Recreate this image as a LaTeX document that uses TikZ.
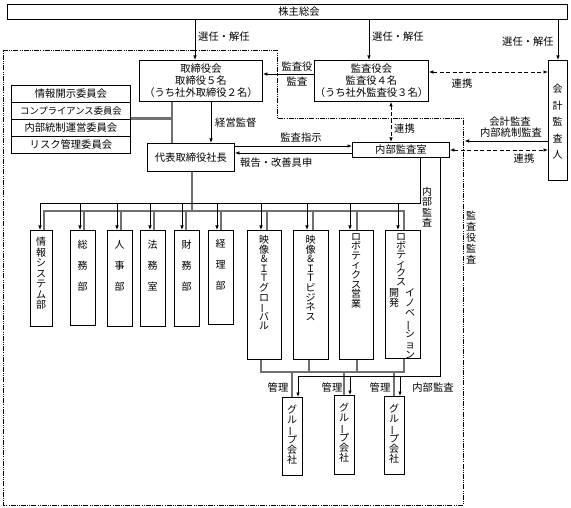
\documentclass[tikz,border=0pt]{standalone}
\usepackage{fontspec}
\setmainfont{Noto Sans CJK JP}
\usepackage{graphicx}
\usetikzlibrary{arrows.meta}
\definecolor{lgray}{RGB}{112,112,112}
\newcommand{\tbar}{\rotatebox[origin=c]{90}{ー}}
\newcommand{\tatefont}[1]{\fontsize{10}{#1}\selectfont\lineskiplimit=-20pt\relax}
\begin{document}
\begin{tikzpicture}[x=1pt,y=-1pt,
  font=\fontsize{10.3}{12}\selectfont,
  box/.style={draw, line width=0.9pt, inner sep=0pt, anchor=north west, align=center},
  arr/.style={line width=0.8pt, -{Latex[length=4.5pt,width=3.6pt]}},
  dl/.style={line width=0.8pt, dash pattern=on 4pt off 2.5pt, {Latex[length=4.5pt,width=3.6pt]}-{Latex[length=4.5pt,width=3.6pt]}},
  gl/.style={line width=2.8pt, draw=lgray},
  frame/.style={line width=0.8pt, dash pattern=on 5pt off 1.2pt on 0.9pt off 1.2pt on 0.9pt off 1.2pt},
  lbl/.style={inner sep=0pt},
  vt/.style={align=center, inner sep=0pt, anchor=north, font=\tatefont{#1}},
  vt/.default=9.6
]
\useasboundingbox (0,0) rectangle (571,508);

% frame
\draw[frame] (3,50) -- (277,50) -- (277,118) -- (463,118) -- (463,505) -- (3,505) -- cycle;

% main boxes
\node[box, minimum width=560pt, minimum height=15pt] (kabu) at (7,4) {};
\node[lbl] (kabut) at (299,11.5) {株主総会};
\node[box, minimum width=123pt, minimum height=41pt] (tori) at (139,60) {取締役会\\取締役５名\\（うち社外取締役２名）};
\node[box, minimum width=114pt, minimum height=41pt] (kansa) at (314,60) {監査役会\\監査役４名\\（うち社外監査役３名）};
\node[box, minimum width=19pt, minimum height=120pt] (kaikei) at (548,60) {};
\node[vt=16.5] (kaikeit) at (557.5,84) {会\\計\\監\\査\\人};

\node[box, minimum width=119pt, minimum height=17pt] (c1) at (11,85) {情報開示委員会};
\node[box, minimum width=119pt, minimum height=17pt] (c2) at (11,102) {\fontsize{9.3}{11}\selectfont コンプライアンス委員会};
\node[box, minimum width=119pt, minimum height=17pt] (c3) at (11,119) {内部統制運営委員会};
\node[box, minimum width=119pt, minimum height=17pt] (c4) at (11,136) {リスク管理委員会};

\node[box, minimum width=87pt, minimum height=28pt] (daihyo) at (147,143) {代表取締役社長};
\node[box, minimum width=97pt, minimum height=15pt] (naibu) at (352,142) {内部監査室};

% departments
\foreach \n/\xa/\w/\h in {d1/30/22/96, d2/70/25/95, d3/107/25/96, d4/140/25/96, d5/174/25/96, d6/208/25/94, d7/247/34/129, d8/293/35/129, d9/339/34/129, d10/385/35/128}
  \node[box, minimum width=\w pt, minimum height=\h pt] (\n) at (\xa,230) {};

\node[vt=10.5] (t1) at (41,237) {情\\報\\シ\\ス\\テ\\ム\\部};
\node[vt=21] (t2) at (82.5,240) {総\\務\\部};
\node[vt=21] (t3) at (119.5,240) {人\\事\\部};
\node[vt=21] (t4) at (152.5,240) {法\\務\\室};
\node[vt=21] (t5) at (186.5,240) {財\\務\\部};
\node[vt=21] (t6) at (220.5,239) {経\\理\\部};
\node[vt] (t7) at (264,235) {映\\像\\＆\\Ｉ\\Ｔ\\グ\\ロ\\\tbar\\バ\\ル};
\node[vt] (t8) at (310.5,235) {映\\像\\＆\\Ｉ\\Ｔ\\ビ\\ジ\\ネ\\ス};
\node[vt] (t9) at (356,233) {ロ\\ボ\\テ\\ィ\\ク\\ス\\営\\業};
\node[vt=9] (t10a) at (401,233) {ロ\\ボ\\テ\\ィ\\ク\\ス};
\node[vt=10.4] (t10b) at (410,288) {イ\\ノ\\ベ\\\tbar\\シ\\ョ\\ン};
\node[vt=10] (t10c) at (394,288) {開\\発};

% group companies
\node[box, minimum width=20pt, minimum height=78pt] (g1) at (282,397) {};
\node[box, minimum width=20pt, minimum height=79pt] (g2) at (334,395) {};
\node[box, minimum width=20pt, minimum height=78pt] (g3) at (384,396) {};
\node[vt=10] (g1t) at (292,405) {グ\\ル\\\tbar\\プ\\会\\社};
\node[vt=10] (g2t) at (344,403) {グ\\ル\\\tbar\\プ\\会\\社};
\node[vt=10] (g3t) at (394,404) {グ\\ル\\\tbar\\プ\\会\\社};

% gray management lines
\draw[gl] (c2.east |- 0,118.5) -- (172,118.5);
\draw[gl] (172,0 |- tori.south) -- (172,0 |- daihyo.north);
\draw[gl] (192,0 |- daihyo.south) -- (192,211);
\draw[gl] (44,0 |- d1.north) -- (44,211) -- (404,211) -- (404,0 |- d10.north);
\foreach \x/\n in {84/d2,121/d3,154/d4,186/d5,221/d6,267/d7,313/d8,357/d9}
  \draw[gl] (\x,211) -- (\x,0 |- \n.north);
\draw[gl] (261,0 |- d7.south) -- (261,372) -- (404,372) -- (404,0 |- d10.south);
\draw[gl] (309,0 |- d8.south) -- (309,372);
\draw[gl] (357,0 |- d9.south) -- (357,372);
\foreach \x/\n in {292/g1,344/g2,394/g3}
  \draw[gl] (\x,372) -- (\x,0 |- \n.north);

% black connectors
\draw[arr] (195,0 |- kabu.south) -- (195,0 |- tori.north);
\draw[arr] (369,0 |- kabu.south) -- (369,0 |- kansa.north);
\draw[arr] (558,0 |- kabu.south) -- (558,0 |- kaikei.north);
\draw[arr] (kansa.west |- 0,74) -- (tori.east |- 0,74);
\draw[dl] (kansa.east |- 0,72) -- (kaikei.west |- 0,72);
\draw[dl] (391,0 |- kansa.south) -- (391,0 |- naibu.north);
\draw[arr] (211,0 |- tori.south) -- (211,0 |- daihyo.north);
\draw[arr] (daihyo.east |- 0,146) -- (naibu.west |- 0,146);
\draw[arr] (naibu.west |- 0,153) -- (daihyo.east |- 0,153);
\coordinate (fr) at (464.5,141);
\draw[arr] (kaikei.west |- fr) -- (fr);
\draw[dl] (naibu.east |- 0,150) -- (kaikei.west |- 0,150);

\draw[arr] (420,0 |- naibu.south) -- (420,203) -- (40,203) -- (40,0 |- d1.north);
\foreach \x/\n in {80/d2,117/d3,150/d4,182/d5,217/d6,261/d7,307/d8,350/d9,398/d10}
  \draw[arr] (\x,203) -- (\x,0 |- \n.north);
\draw[arr] (440,0 |- naibu.south) -- (440,376) -- (298,376) -- (298,0 |- g1.north);
\draw[arr] (350,376) -- (350,0 |- g2.north);
\draw[arr] (400,376) -- (400,0 |- g3.north);

% labels
\node[lbl, anchor=west] (l1) at (198,37) {選任・解任};
\node[lbl, anchor=west] (l2) at (372,37) {選任・解任};
\node[lbl, anchor=west] (l3) at (502,42) {選任・解任};
\node[lbl] (l4) at (297,67) {監査役};
\node[lbl] (l5) at (297,81) {監査};
\node[lbl] (l6) at (462,84) {連携};
\node[lbl, anchor=west] (l7) at (394,129) {連携};
\node[lbl, anchor=west] (l8) at (215,123) {経営監督};
\node[lbl] (l9) at (301,138) {監査指示};
\node[lbl, anchor=west] (l10) at (240,163) {報告・改善具申};
\node[lbl] (l11) at (510,122) {会計監査};
\node[lbl] (l12) at (511,133) {内部統制監査};
\node[lbl] (l13) at (524,159) {連携};
\node[lbl] (l14) at (278,388) {管理};
\node[lbl] (l15) at (332,388) {管理};
\node[lbl] (l16) at (380,388) {管理};
\node[lbl] (l17) at (433,388) {内部監査};
\node[vt=10.3] (l18) at (427,187) {内\\部\\監\\査};
\node[vt=11] (l19) at (471,211) {監\\査\\役\\監\\査};
\end{tikzpicture}
\end{document}
